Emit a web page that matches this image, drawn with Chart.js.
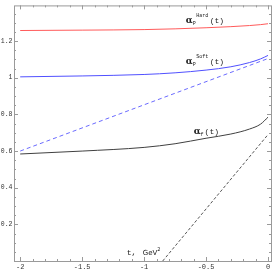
<!DOCTYPE html>
<html>
<head>
<meta charset="utf-8">
<style>
  html, body { margin: 0; padding: 0; background: #fff; }
  #wrap { width: 273px; height: 273px; }
</style>
<script src="https://cdn.jsdelivr.net/npm/chart.js@4"></script>
</head>
<body>
<div id="wrap"><canvas id="regge"></canvas></div>
<script>
// t values (GeV^2) where the curves were read
const tVals = [-2, -1.5, -1, -0.75, -0.5, -0.3, -0.15, -0.06, 0];
const hardPomeron = [1.258, 1.26, 1.263, 1.267, 1.273, 1.279, 1.285, 1.29, 1.295];
const softPomeron = [1.005, 1.01, 1.018, 1.027, 1.042, 1.06, 1.083, 1.103, 1.122];
const fReggeon = [0.584, 0.6, 0.62, 0.64, 0.67, 0.693, 0.72, 0.747, 0.785];
// linear trajectories (dashed)
const softLinT = [-2, 0];
const softLin = [0.6, 1.105];
const fLinT = [-0.85, 0];
const fLin = [0, 0.69];
// tick labels
const xMajor = [-2, -1.5, -1, -0.5, 0];
const yMajor = [0.2, 0.4, 0.6, 0.8, 1, 1.2];

function pts(xs, ys) {
  return xs.map((x, i) => ({ x: x, y: ys[i] }));
}

const monoFont = "'Liberation Mono', 'DejaVu Sans Mono', monospace";

// frame + inward ticks, Mathematica style
const framePlugin = {
  id: "frame",
  afterDraw(chart) {
    const { ctx, chartArea: a, scales } = chart;
    ctx.save();
    ctx.strokeStyle = "#9a9a9a";
    ctx.lineWidth = 1;
    ctx.strokeRect(a.left + 0.5, a.top + 0.5, a.right - a.left, a.bottom - a.top);
    ctx.beginPath();
    for (let i = -20; i <= 0; i++) {
      const v = i / 10;
      const px = Math.round(scales.x.getPixelForValue(v)) + 0.5;
      const len = i % 5 === 0 ? 4 : 2;
      ctx.moveTo(px, a.bottom); ctx.lineTo(px, a.bottom - len);
      ctx.moveTo(px, a.top); ctx.lineTo(px, a.top + len);
    }
    for (let i = 1; i <= 27; i++) {
      const v = i * 0.05;
      const py = Math.round(scales.y.getPixelForValue(v)) + 0.5;
      const len = i % 4 === 0 ? 4 : 2;
      ctx.moveTo(a.left, py); ctx.lineTo(a.left + len, py);
      ctx.moveTo(a.right, py); ctx.lineTo(a.right - len, py);
    }
    ctx.stroke();
    ctx.restore();
  },
};

// curve labels
const labelPlugin = {
  id: "curveLabels",
  afterDatasetsDraw(chart) {
    const { ctx, scales } = chart;
    const X = (v) => scales.x.getPixelForValue(v);
    const Y = (v) => scales.y.getPixelForValue(v);
    ctx.save();
    ctx.fillStyle = "#222";
    ctx.textBaseline = "alphabetic";
    function alpha(t, v, sub, sup) {
      let x = X(t), y = Y(v);
      ctx.font = "bold 9px 'DejaVu Serif', serif";
      ctx.fillText("\u03b1", x, y);
      x += ctx.measureText("\u03b1").width;
      ctx.font = "5px " + monoFont;
      ctx.fillText(sub, x, y + 2);
      let w = ctx.measureText(sub).width;
      if (sup) {
        ctx.fillText(sup, x + w + 0.5, y - 6);
        w += ctx.measureText(sup).width + 1;
      }
      x += w + 1;
      ctx.font = "8px " + monoFont;
      ctx.fillText("(t)", x, y);
    }
    alpha(-0.664, 1.3, "P", "Hard");
    alpha(-0.664, 1.073, "P", "Soft");
    alpha(-0.6, 0.692, "f", null);
    let x = X(-1.14), y = Y(0.032);
    ctx.font = "8px " + monoFont;
    ctx.fillText("t,", x, y);
    x += 16;
    ctx.font = "7px 'DejaVu Sans', sans-serif";
    ctx.fillText("GeV", x, y);
    x += ctx.measureText("GeV").width;
    ctx.font = "5px 'DejaVu Sans', sans-serif";
    ctx.fillText("2", x, y - 4);
    ctx.restore();
  },
};

const ctx1 = document.getElementById("regge").getContext("2d");
const reggeChart = new Chart(ctx1, {
  type: "scatter",
  data: {
    datasets: [
      {
        data: pts(tVals, hardPomeron),
        borderColor: "#ff5a5a",
        borderWidth: 1,
        showLine: true,
        pointRadius: 0,
        cubicInterpolationMode: "monotone",
      },
      {
        data: pts(tVals, softPomeron),
        borderColor: "#5050ff",
        borderWidth: 1,
        showLine: true,
        pointRadius: 0,
        cubicInterpolationMode: "monotone",
      },
      {
        data: pts(tVals, fReggeon),
        borderColor: "#404040",
        borderWidth: 1,
        showLine: true,
        pointRadius: 0,
        cubicInterpolationMode: "monotone",
      },
      {
        data: pts(softLinT, softLin),
        borderColor: "#6a6aff",
        borderWidth: 1,
        borderDash: [4, 3],
        showLine: true,
        pointRadius: 0,
      },
      {
        data: pts(fLinT, fLin),
        borderColor: "#555",
        borderWidth: 1,
        borderDash: [3, 2],
        showLine: true,
        pointRadius: 0,
      },
    ],
  },
  options: {
    responsive: true,
    maintainAspectRatio: false,
    animation: false,
    layout: { padding: { top: 3, right: 2, left: 0, bottom: 0 } },
    scales: {
      x: {
        type: "linear",
        min: -2.05,
        max: 0.024,
        grid: { display: false, drawTicks: false },
        border: { display: false },
        afterBuildTicks: (s) => { s.ticks = xMajor.map((v) => ({ value: v })); },
        afterFit: (s) => { s.height = 12; },
        ticks: {
          padding: 2,
          maxRotation: 0,
          autoSkip: false,
          color: "#333",
          font: { family: monoFont, size: 7 },
          callback: (v) => String(v),
        },
      },
      y: {
        min: 0,
        max: 1.395,
        grid: { display: false, drawTicks: false },
        border: { display: false },
        afterBuildTicks: (s) => { s.ticks = yMajor.map((v) => ({ value: v })); },
        afterFit: (s) => { s.width = 14; },
        ticks: {
          padding: 1.5,
          autoSkip: false,
          color: "#333",
          font: { family: monoFont, size: 6.5 },
          callback: (v) => String(v),
        },
      },
    },
    plugins: {
      legend: { display: false },
      tooltip: { enabled: false },
    },
  },
  plugins: [framePlugin, labelPlugin],
});
</script>
</body>
</html>
